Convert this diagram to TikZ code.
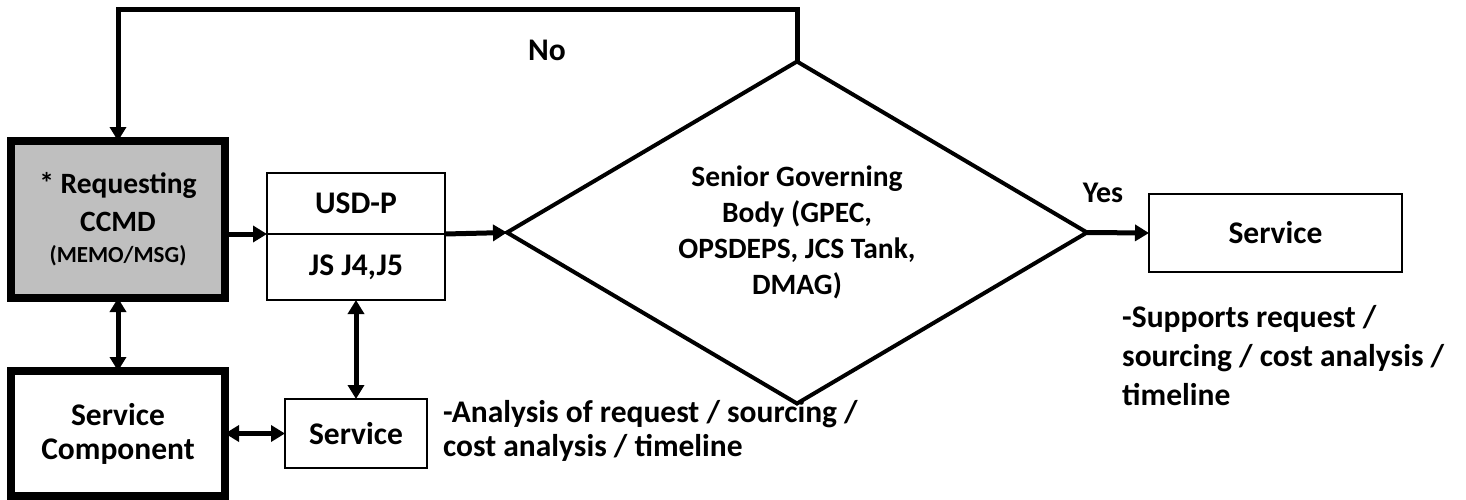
\documentclass[tikz,border=0pt]{standalone}
\usepackage{fontspec}
\setmainfont{Carlito}
\usetikzlibrary{shapes.geometric,arrows.meta,positioning}
\definecolor{ccmdgray}{HTML}{BFBFBF}

\begin{document}
\begin{tikzpicture}[x=1pt,y=-1pt,font=\fontsize{31.5}{34}\selectfont\bfseries,
  box/.style={draw, line width=2.5pt, outer sep=0pt, inner sep=0pt, align=center},
  heavy/.style={box, line width=8pt},
  flow/.style={line width=5pt, -{Triangle[length=14pt,width=16pt]}},
  both/.style={line width=5pt, {Triangle[length=14pt,width=16pt]}-{Triangle[length=14pt,width=16pt]}}]
\useasboundingbox (0,0) rectangle (1466,499);
\node[heavy, fill=ccmdgray, minimum width=214pt, minimum height=157pt, font=\fontsize{29.5}{33}\selectfont\bfseries] (ccmd) at (118,219.5) {* Requesting\\[5pt]CCMD\\[-2pt]{\fontsize{23}{28}\selectfont (MEMO/MSG)}};
\node[heavy, minimum width=214pt, minimum height=125pt] (comp) at (118,433.5) {Service\\Component};
\node[box, minimum width=178pt, minimum height=61pt] (usd) at (356,203.5) {USD-P};
\node[box, minimum width=178pt, minimum height=66pt, below=0pt of usd] (js) {JS J4,J5};
\node[box, minimum width=142pt, minimum height=69pt] (svc) at (356,433.5) {Service};
\node[draw, diamond, aspect=1.7, line width=4pt, outer sep=0pt, inner sep=0pt, align=center,
  minimum width=580pt, minimum height=342pt, font=\fontsize{29.5}{33}\selectfont\bfseries] (dmd) at (797,232.5)
  {Senior Governing\\[3pt]Body (GPEC,\\[3pt]OPSDEPS, JCS Tank,\\[3pt]DMAG)};
\node[box, minimum width=253pt, minimum height=78pt] (far) at (1275.5,233) {Service};
\node (no) at (547,50) {No};
\node[font=\fontsize{30}{33}\selectfont\bfseries] (yes) at (1103,193) {Yes};
\node[align=left, anchor=west, inner sep=0pt] (anl) at (443,431) {-Analysis of request / sourcing /\\cost analysis / timeline};
\node[align=left, anchor=west, inner sep=0pt] (sup) at (1122,356) {-Supports request /\\[5pt]sourcing / cost analysis /\\[5pt]timeline};
\coordinate (bend) at (118,9);
\draw[flow] (dmd.north) |- (bend) -- (ccmd.north);
\draw[flow] (ccmd.east |- usd.south) -- (usd.south west);
\draw[flow] (usd.south east) -- (dmd.west);
\draw[flow] (dmd.east) -- (far.west);
\draw[both] (ccmd.south) -- (comp.north);
\draw[both] (js.south) -- (svc.north);
\draw[both] (comp.east) -- (svc.west);
\end{tikzpicture}
\end{document}
